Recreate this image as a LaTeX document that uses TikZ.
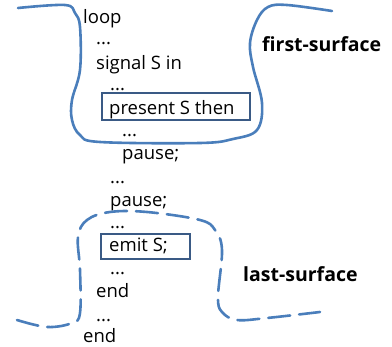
\documentclass[tikz,border=0pt]{standalone}
\usepackage{fontspec}
\setmainfont{Open Sans}
\definecolor{curveblue}{HTML}{4A7EBB}
\definecolor{boxblue}{HTML}{3A5A85}
\tikzset{
  code/.style={anchor=base west,inner sep=0pt,font=\fontsize{18.5}{20}\selectfont},
  surf/.style={anchor=base west,inner sep=0pt,font=\fontsize{19.5}{22}\selectfont\bfseries},
  hbox/.style={draw=boxblue,line width=1.5pt},
  firstline/.style={draw=curveblue,line width=2.6pt,line cap=round,line join=round},
  lastline/.style={firstline,dash pattern=on 22pt off 9pt},
}
\begin{document}
\begin{tikzpicture}[x=1pt,y=-1pt]
  \useasboundingbox (0,0) rectangle (392,347);
  % highlighted statements
  \draw[hbox] (102,93) rectangle (250,120);
  \draw[hbox] (101,234) rectangle (190,259);
  % program text
  \node[code] (l1) at (83,24) {loop};
  \node[code] (l2) at (96,45) {...};
  \node[code] (l3) at (96,70) {signal S in};
  \node[code] (l4) at (110,91) {...};
  \node[code] (l5) at (109,115) {present S then};
  \node[code] (l6) at (122,137) {...};
  \node[code] (l7) at (122,160) {pause;};
  \node[code] (l8) at (110,184) {...};
  \node[code] (l9) at (110,207) {pause;};
  \node[code] (l10) at (110,229) {...};
  \node[code] (l11) at (109,252) {emit S;};
  \node[code] (l12) at (110,275) {...};
  \node[code] (l13) at (96,298) {end};
  \node[code] (l14) at (96,322) {...};
  \node[code] (l15) at (83,343) {end};
  % surfaces
  \draw[firstline] plot[smooth,tension=0.6] coordinates {(18,8) (65,5) (75,13) (80,27)
    (80,70) (72,100) (72,120) (80,135) (100,142) (200,143) (233,139) (257,130)
    (262,103) (253,67) (250,43) (257,20) (268,7) (287,5) (332,11)};
  \draw[lastline] plot[smooth,tension=0.6] coordinates {(17,320) (47,327) (72,323)
    (80,313) (80,270) (78,237) (87,220) (110,212) (147,212) (200,220) (215,230)
    (222,250) (218,297) (222,312) (237,320) (267,318) (320,312)};
  \node[surf] (first) at (262,52) {first-surface};
  \node[surf] (last) at (243,282) {last-surface};
\end{tikzpicture}
\end{document}
